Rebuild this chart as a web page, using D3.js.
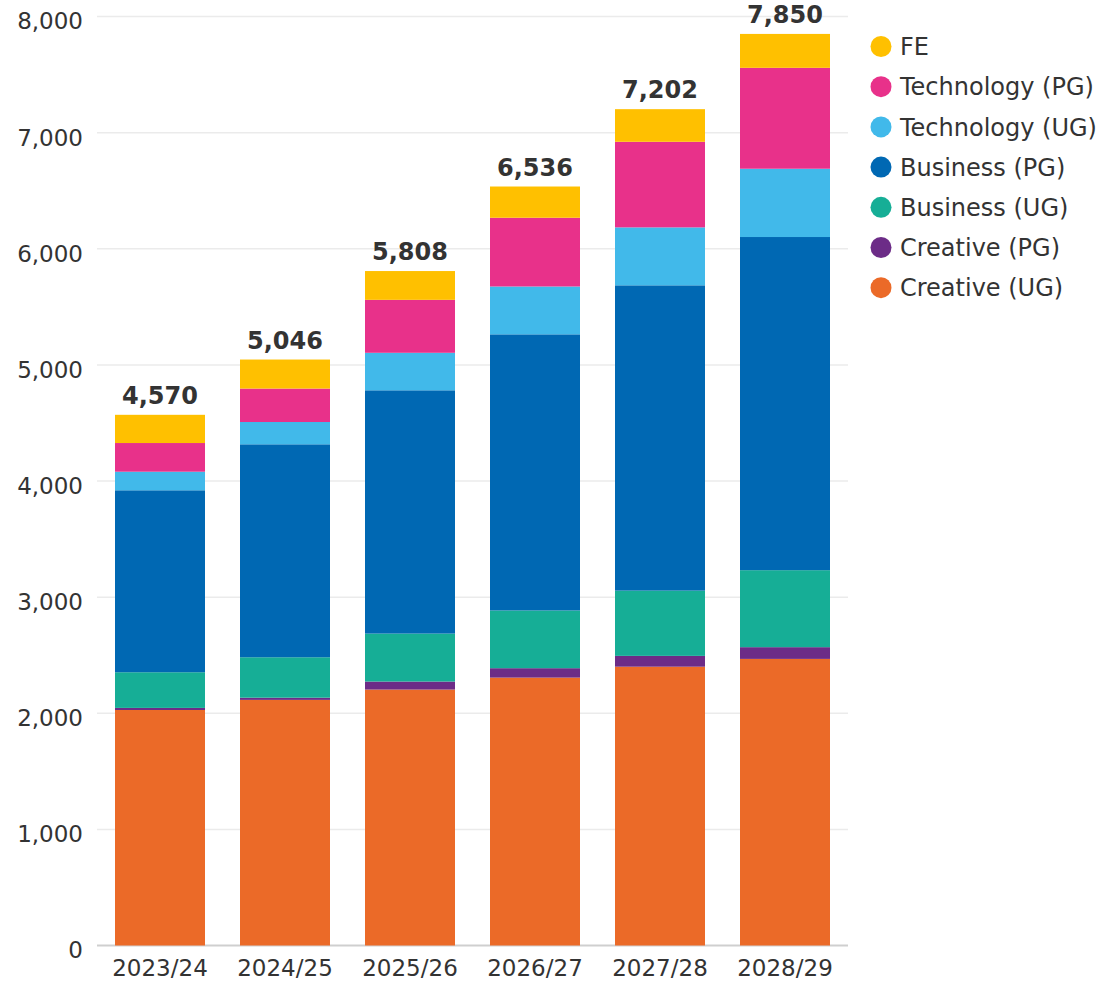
<!DOCTYPE html>
<html>
<head>
<meta charset="utf-8">
<script src="https://cdn.jsdelivr.net/npm/d3@7"></script>
<style>
  body { margin: 0; background: #fff; }
  text { font-family: "DejaVu Sans", sans-serif; fill: #333; }
</style>
</head>
<body>
<script>
// data
var years = ["2023/24", "2024/25", "2025/26", "2026/27", "2027/28", "2028/29"];
var creativeUG = [2028, 2115, 2204, 2307, 2401, 2468];
var creativePG = [18, 19, 69, 81, 93, 101];
var businessUG = [307, 348, 413, 497, 562, 663];
var businessPG = [1567, 1834, 2095, 2378, 2629, 2869];
var technologyUG = [160, 192, 323, 412, 499, 588];
var technologyPG = [247, 288, 456, 592, 737, 869];
var fe = [243, 250, 248, 269, 281, 292];
var totals = [4570, 5046, 5808, 6536, 7202, 7850];
var yTicks = [0, 1000, 2000, 3000, 4000, 5000, 6000, 7000, 8000];

var seriesNames = ["Creative (UG)", "Creative (PG)", "Business (UG)", "Business (PG)",
                   "Technology (UG)", "Technology (PG)", "FE"];
var seriesValues = [creativeUG, creativePG, businessUG, businessPG, technologyUG, technologyPG, fe];
var colors = ["#eb6a28", "#6c2c87", "#16ae96", "#0068b3", "#41b9ea", "#e8318a", "#ffc000"];

var width = 1104, height = 983;
var svg = d3.select("body").append("svg")
    .attr("width", width)
    .attr("height", height);

// build rows for the stack
var rows = years.map(function(y, i) {
  var r = { year: y };
  seriesNames.forEach(function(s, j) { r[s] = seriesValues[j][i]; });
  return r;
});
var stacked = d3.stack().keys(seriesNames)(rows);

var x = d3.scaleBand()
    .domain(years)
    .range([97.5, 847.5])
    .paddingInner(0.28)
    .paddingOuter(0.14);

var y = d3.scaleLinear()
    .domain([0, 8000])
    .range([945.5, 16.5]);

// grid lines
svg.append("g")
    .selectAll("line")
    .data(yTicks)
    .enter().append("line")
    .attr("x1", 97)
    .attr("x2", 848)
    .attr("y1", function(d) { return y(d); })
    .attr("y2", function(d) { return y(d); })
    .attr("stroke", function(d) { return d === 0 ? "#cfcfcf" : "#ebebeb"; })
    .attr("stroke-width", function(d) { return d === 0 ? 2 : 1.5; });

// y axis
var yAxis = d3.axisLeft(y)
    .tickValues(yTicks)
    .tickSize(0)
    .tickPadding(0)
    .tickFormat(d3.format(","));

var yG = svg.append("g")
    .attr("transform", "translate(83,5)")
    .call(yAxis);
yG.select(".domain").remove();
yG.selectAll("text")
    .attr("font-size", "23px")
    .attr("font-family", "DejaVu Sans, sans-serif")
    .attr("fill", "#333");

// x axis
var xAxis = d3.axisBottom(x).tickSize(0).tickPadding(14);
var xG = svg.append("g")
    .attr("transform", "translate(0," + y(0) + ")")
    .call(xAxis);
xG.select(".domain").remove();
xG.selectAll("text")
    .attr("font-size", "23px")
    .attr("font-family", "DejaVu Sans, sans-serif")
    .attr("fill", "#333");

// stacked bars
svg.append("g")
    .selectAll("g")
    .data(stacked)
    .enter().append("g")
    .attr("fill", function(d, i) { return colors[i]; })
    .selectAll("rect")
    .data(function(d) { return d; })
    .enter().append("rect")
    .attr("x", function(d) { return x(d.data.year); })
    .attr("width", x.bandwidth())
    .attr("y", function(d) { return y(d[1]); })
    .attr("height", function(d) { return y(d[0]) - y(d[1]); });

// totals on top
svg.append("g")
    .selectAll("text")
    .data(totals)
    .enter().append("text")
    .attr("x", function(d, i) { return x(years[i]) + x.bandwidth() / 2; })
    .attr("y", function(d) { return y(d) - 11; })
    .attr("text-anchor", "middle")
    .attr("font-size", "24px")
    .attr("font-weight", "bold")
    .attr("fill", "#222")
    .text(function(d) { return d3.format(",")(d); });

// legend, top item is FE
var legendOrder = seriesNames.slice().reverse();
var legendColors = colors.slice().reverse();
var legend = svg.append("g")
    .selectAll("g")
    .data(legendOrder)
    .enter().append("g")
    .attr("transform", function(d, i) { return "translate(881," + (46.5 + i * 40.2) + ")"; });

legend.append("circle")
    .attr("r", 10.5)
    .attr("fill", function(d, i) { return legendColors[i]; });

legend.append("text")
    .attr("x", 19)
    .attr("dy", "0.36em")
    .attr("font-size", "24px")
    .attr("fill", "#333")
    .text(function(d) { return d; });
</script>
</body>
</html>
